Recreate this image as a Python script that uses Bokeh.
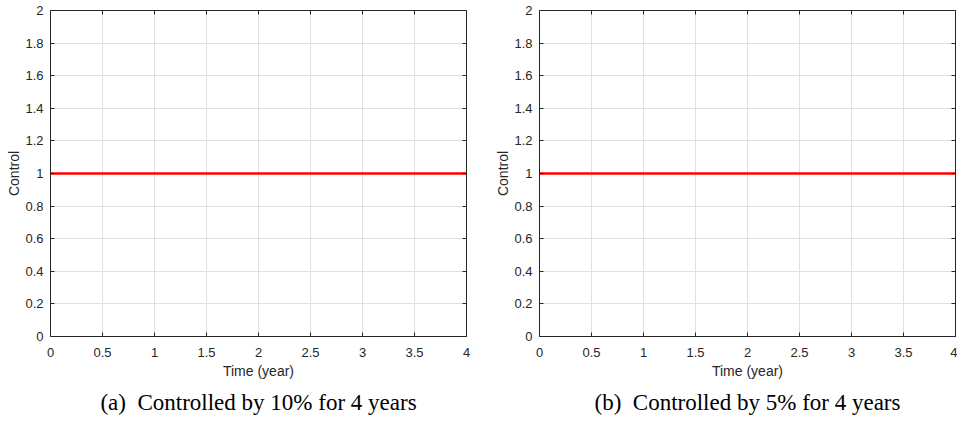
from bokeh.plotting import figure
from bokeh.models import Range1d, FixedTicker, LinearAxis, Title
from bokeh.layouts import row
from bokeh.embed import file_html
from bokeh.resources import INLINE

# ---- data ----
time_a = [0, 4]
control_a = [1, 1]
time_b = [0, 4]
control_b = [1, 1]

x_ticks = [0, 0.5, 1, 1.5, 2, 2.5, 3, 3.5, 4]
x_tick_labels = ["0", "0.5", "1", "1.5", "2", "2.5", "3", "3.5", "4"]
y_ticks = [0, 0.2, 0.4, 0.6, 0.8, 1, 1.2, 1.4, 1.6, 1.8, 2]
y_tick_labels = ["0", "0.2", "0.4", "0.6", "0.8", "1", "1.2", "1.4", "1.6", "1.8", "2"]

x_label = "Time (year)"
y_label = "Control"
caption_a = "(a)\u00a0 Controlled by 10% for 4 years"
caption_b = "(b)\u00a0 Controlled by 5% for 4 years"

AX = "#262626"
GRID = "#e0e0e0"
SANS = "Liberation Sans"
SERIF = "Liberation Serif"


def make_panel(t, c, caption, width, bl, br, bt, bb, cap_off):
    p = figure(width=width, height=423, output_backend="svg", toolbar_location=None,
               x_range=Range1d(0, 4), y_range=Range1d(0, 2),
               min_border_left=bl, min_border_right=br,
               min_border_top=bt, min_border_bottom=bb,
               background_fill_color="white", border_fill_color="white")
    p.outline_line_color = None

    xt = FixedTicker(ticks=x_ticks)
    yt = FixedTicker(ticks=y_ticks)

    p.xaxis.ticker = xt
    p.yaxis.ticker = yt
    p.xaxis.major_label_overrides = dict(zip(x_ticks, x_tick_labels))
    p.yaxis.major_label_overrides = dict(zip(y_ticks, y_tick_labels))

    for ax in (p.xaxis[0], p.yaxis[0]):
        ax.axis_line_color = AX
        ax.major_tick_line_color = AX
        ax.minor_tick_line_color = None
        ax.major_tick_in = 4
        ax.major_tick_out = 0
        ax.major_label_text_font = SANS
        ax.major_label_text_font_size = "13px"
        ax.major_label_text_color = AX
        ax.axis_label_text_font = SANS
        ax.axis_label_text_font_size = "14px"
        ax.axis_label_text_font_style = "normal"
        ax.axis_label_text_color = AX

    p.xaxis.axis_label = x_label
    p.yaxis.axis_label = y_label
    p.xaxis.major_label_standoff = 11
    p.xaxis.axis_label_standoff = 3
    p.yaxis.major_label_standoff = 7
    p.yaxis.axis_label_standoff = 0

    for loc, tk in (("above", xt), ("right", yt)):
        ax = LinearAxis(ticker=tk, major_label_text_font_size="0px",
                        major_label_text_color=None,
                        major_label_standoff=0, major_tick_in=4, major_tick_out=0,
                        axis_line_color=AX, major_tick_line_color=AX,
                        minor_tick_line_color=None)
        p.add_layout(ax, loc)

    p.xgrid.ticker = xt
    p.ygrid.ticker = yt
    p.xgrid.grid_line_color = GRID
    p.ygrid.grid_line_color = GRID

    p.line(t, c, line_color="#ff0000", line_width=2.6)

    cap = Title(text=caption, align="center", text_font=SERIF, text_font_size="23px",
                text_font_style="normal", text_color="black", standoff=13, offset=cap_off)
    p.add_layout(cap, "below")
    return p


p1 = make_panel(time_a, control_a, caption_a, 490, 50, 24, 10, 85, 4)
p2 = make_panel(time_b, control_b, caption_b, 467, 49, 2, 8, 87, -3)

layout = row(p1, p2)
open("out.html", "w").write(file_html(layout, INLINE))
